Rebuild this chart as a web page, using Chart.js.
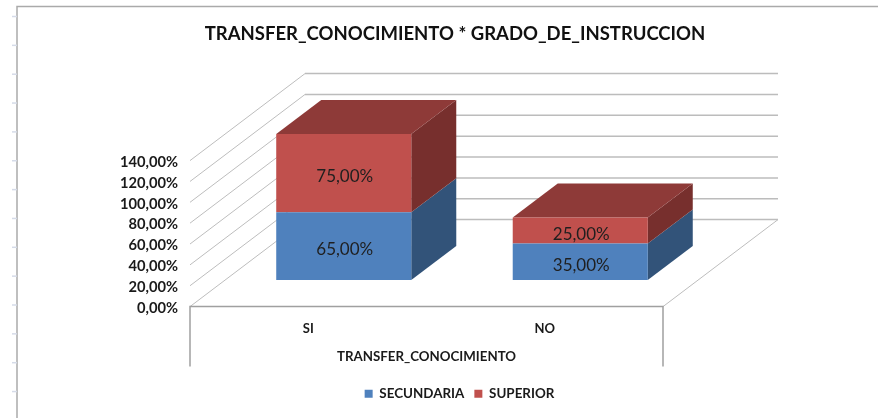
<!DOCTYPE html>
<html>
<head>
<meta charset="utf-8">
<style>
html,body{margin:0;padding:0;background:#fff;overflow:hidden}
#wrap{position:relative;width:878px;height:418px}
canvas{display:block;filter:blur(0.4px)}
</style>
<script src="https://cdn.jsdelivr.net/npm/chart.js@4"></script>
</head>
<body>
<div id="wrap"><canvas id="c" width="878" height="418"></canvas></div>
<script>
const categories = ['SI', 'NO'];
const secundaria = [65, 35];
const superior = [75, 25];
const seriesNames = ['SECUNDARIA', 'SUPERIOR'];
const titleText = 'TRANSFER_CONOCIMIENTO * GRADO_DE_INSTRUCCION';
const axisTitle = 'TRANSFER_CONOCIMIENTO';
const yMax = 140, yStep = 20;

const FONT = 'Lato, "Open Sans", sans-serif';
const fmt = v => v.toFixed(2).replace('.', ',') + '%';
// floor projection and bar depth of the pseudo-3D view
const WALL = {dx: 115, dy: -87};
const SHIFT = {dx: 35.5, dy: -26.5};
const DEPTH = {dx: 45, dy: -34};
const SIDE = ['#325379', '#772f2d'];
const TOP = '#8e3a38';

function poly(ctx, pts, fill) {
  ctx.beginPath();
  pts.forEach((p, i) => i ? ctx.lineTo(p[0], p[1]) : ctx.moveTo(p[0], p[1]));
  ctx.closePath();
  ctx.fillStyle = fill;
  ctx.fill();
}

const frame3d = {
  id: 'frame3d',
  afterLayout(chart) {
    // centre title and legend over the plot the way the reference does
    const t = chart.titleBlock, l = chart.legend;
    t.left = 32; t.right = 878;
    l.left = 41; l.right = 878;
  },
  beforeDraw(chart) {
    const ctx = chart.ctx, a = chart.chartArea, y = chart.scales.y;
    ctx.save();
    // worksheet frame behind the chart
    ctx.strokeStyle = '#aaaaaa'; ctx.lineWidth = 1.5;
    ctx.beginPath(); ctx.moveTo(17, 418); ctx.lineTo(17, 6.5); ctx.lineTo(878, 6.5); ctx.stroke();
    ctx.strokeStyle = '#d5dbe8'; ctx.lineWidth = 1.5;
    for (let k = 0; k < 14; k++) {
      const ty = 16.5 + k * 28.85;
      ctx.beginPath(); ctx.moveTo(12, ty); ctx.lineTo(17, ty); ctx.stroke();
    }
    // wall gridlines and their run across the side wall
    y.ticks.forEach(t => {
      const py = y.getPixelForValue(t.value);
      ctx.strokeStyle = '#bdbdbd'; ctx.lineWidth = 1;
      ctx.beginPath(); ctx.moveTo(a.left, py); ctx.lineTo(a.left + WALL.dx, py + WALL.dy); ctx.stroke();
      ctx.strokeStyle = '#bcbcbc'; ctx.lineWidth = 1.5;
      ctx.beginPath(); ctx.moveTo(a.left + WALL.dx, py + WALL.dy); ctx.lineTo(a.right + WALL.dx, py + WALL.dy); ctx.stroke();
    });
    // floor and the category box
    ctx.strokeStyle = '#bdbdbd'; ctx.lineWidth = 1;
    ctx.beginPath(); ctx.moveTo(a.right, a.bottom); ctx.lineTo(a.right + WALL.dx, a.bottom + WALL.dy); ctx.stroke();
    ctx.strokeStyle = '#a0a0a0'; ctx.lineWidth = 1.5;
    ctx.beginPath();
    ctx.moveTo(a.left, a.bottom + 60); ctx.lineTo(a.left, a.bottom); ctx.lineTo(a.right, a.bottom); ctx.lineTo(a.right, a.bottom + 60);
    ctx.stroke();
    ctx.restore();
  },
  beforeDatasetsDraw(chart) {
    const ctx = chart.ctx;
    ctx.save();
    ctx.translate(SHIFT.dx, SHIFT.dy);
    // sides and top of each stack, behind the library's own front faces
    chart.data.labels.forEach((_, i) => {
      let topBar = null;
      chart.data.datasets.forEach((ds, d) => {
        const b = chart.getDatasetMeta(d).data[i];
        const xr = b.x + b.width / 2;
        poly(ctx, [[xr, b.base], [xr + DEPTH.dx, b.base + DEPTH.dy], [xr + DEPTH.dx, b.y + DEPTH.dy], [xr, b.y]], SIDE[d]);
        topBar = b;
      });
      const l = topBar.x - topBar.width / 2, r = topBar.x + topBar.width / 2, t = topBar.y;
      poly(ctx, [[l, t], [r, t], [r + DEPTH.dx, t + DEPTH.dy], [l + DEPTH.dx, t + DEPTH.dy]], TOP);
    });
  },
  afterDatasetsDraw(chart) {
    const ctx = chart.ctx;
    ctx.fillStyle = '#1f1f1f';
    ctx.font = '17px ' + FONT;
    ctx.textAlign = 'center';
    ctx.textBaseline = 'middle';
    chart.data.datasets.forEach((ds, d) => {
      chart.getDatasetMeta(d).data.forEach((b, i) => {
        ctx.fillText(fmt(ds.data[i]), b.x + 1, (b.y + b.base) / 2 + 3.5);
      });
    });
    ctx.restore();
  }
};

new Chart(document.getElementById('c'), {
  type: 'bar',
  plugins: [frame3d],
  data: {
    labels: categories,
    datasets: [
      {label: seriesNames[0], data: secundaria, backgroundColor: '#4f81bd'},
      {label: seriesNames[1], data: superior, backgroundColor: '#c0504d'}
    ]
  },
  options: {
    responsive: false,
    animation: false,
    layout: {padding: {left: 0, right: 215, top: 0, bottom: 7.5}},
    datasets: {bar: {categoryPercentage: 1, barPercentage: 0.571}},
    plugins: {
      tooltip: {enabled: false},
      title: {
        display: true, text: titleText, color: '#111',
        font: {family: FONT, size: 18.5, weight: 'bold'},
        padding: {top: 23, bottom: 115.4}
      },
      legend: {
        position: 'bottom',
        labels: {
          boxWidth: 8, boxHeight: 8, padding: 10, color: '#1a1a1a',
          font: {family: FONT, size: 13.4, weight: 'bold'}
        }
      }
    },
    scales: {
      x: {
        stacked: true,
        grid: {display: false}, border: {display: false},
        ticks: {color: '#1a1a1a', padding: 6, maxRotation: 0, font: {family: FONT, size: 13, weight: 'bold'}},
        title: {display: true, text: axisTitle, color: '#1a1a1a', padding: {top: 12, bottom: 12}, font: {family: FONT, size: 13.3, weight: 'bold'}},
        afterFit(s) { s.height = 70.5; }
      },
      y: {
        stacked: true, min: 0, max: yMax,
        grid: {display: false}, border: {display: false},
        ticks: {stepSize: yStep, color: '#1a1a1a', padding: 4, labelOffset: 1.5, callback: v => fmt(v), font: {family: FONT, size: 14.7, weight: 'bold'}},
        afterFit(s) { s.width = 190; }
      }
    }
  }
});
</script>
</body>
</html>
